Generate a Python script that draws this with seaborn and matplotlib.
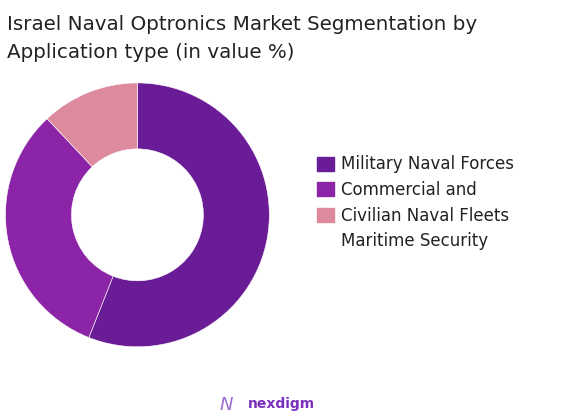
import textwrap
import matplotlib.pyplot as plt
import matplotlib.patches as mpatches
import seaborn as sns

segments = ['Military Naval Forces', 'Commercial and Civilian Naval Fleets', 'Maritime Security']
shares = [56, 32, 12]
colors = ['#6a1b96', '#8c24a8', '#de8a9e']

sns.set_theme(style='white')
plt.rcParams['font.family'] = ['DejaVu Sans']

fig = plt.figure(figsize=(5.65, 4.18), dpi=100)
ax = fig.add_axes([0.0097, 0.17, 0.467, 0.632])
ax.pie(shares, colors=colors, startangle=90, counterclock=False,
       wedgeprops=dict(width=0.5, edgecolor='white', linewidth=0.4))
ax.set_xlim(-1, 1)
ax.set_ylim(-1, 1)
ax.set_aspect('equal')

fig.text(0.012, 0.964, 'Israel Naval Optronics Market Segmentation by\nApplication type (in value %)',
         fontsize=14.3, color='#222222', va='top', ha='left', linespacing=1.58)

# legend text wraps, squares stay on the first rows
lines = []
for s in segments:
    lines += textwrap.wrap(s, 21)
handles = [mpatches.Patch(color=c) for c in colors]
handles += [mpatches.Patch(color='none')] * (len(lines) - len(handles))
fig.legend(handles, lines, loc='upper left', bbox_to_anchor=(0.535, 0.664),
           frameon=False, fontsize=12, handlelength=1.0, handleheight=0.9,
           handletextpad=0.45, labelspacing=0.46, labelcolor='#222222')

fig.text(0.388, 0.031, 'N', fontsize=13, color='#9a6ad0', ha='left', va='center', fontstyle='italic')
fig.text(0.438, 0.033, 'nexdigm', fontsize=10, color='#7b2fbf', ha='left', va='center', fontweight='bold')

fig.savefig('out.png', dpi=100)
